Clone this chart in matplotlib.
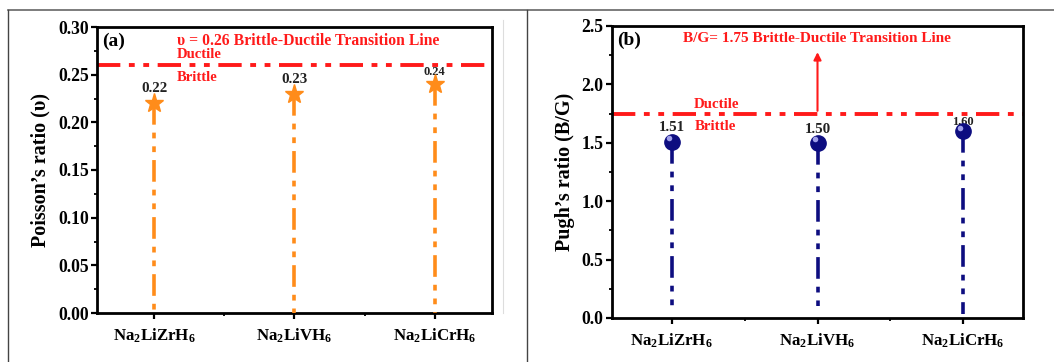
import matplotlib
matplotlib.use("Agg")
import matplotlib.pyplot as plt
from matplotlib.lines import Line2D
from matplotlib.ticker import MultipleLocator, FixedLocator

plt.rcParams['font.family'] = ['Liberation Serif', 'DejaVu Serif']
plt.rcParams['font.weight'] = 'bold'
plt.rcParams['mathtext.fontset'] = 'custom'
plt.rcParams['mathtext.rm'] = 'Liberation Serif:bold'
plt.rcParams['mathtext.bf'] = 'Liberation Serif:bold'
plt.rcParams['mathtext.it'] = 'Liberation Serif:bold'

# ---- data ----
compounds = [r'Na$_2$LiZrH$_6$', r'Na$_2$LiVH$_6$', r'Na$_2$LiCrH$_6$']
poisson = [0.22, 0.23, 0.24]
pugh = [1.51, 1.50, 1.60]
poisson_limit = 0.26
pugh_limit = 1.75
poisson_ticks = [0.00, 0.05, 0.10, 0.15, 0.20, 0.25, 0.30]
pugh_ticks = [0.0, 0.5, 1.0, 1.5, 2.0, 2.5]

W, H = 1054, 362
fig = plt.figure(figsize=(W / 100, H / 100), dpi=100)

def ax_rect(l, r, t, b):
    return [l / W, 1 - b / H, (r - l) / W, (b - t) / H]

axa = fig.add_axes(ax_rect(97, 492, 27, 313))
axb = fig.add_axes(ax_rect(612, 1023, 26, 318))

red = '#ff1a1a'
orange = '#ff8c1a'
navy = '#0d0d80'
dashdotdot = (0, (6, 2.2, 1.6, 2.2, 1.6, 2.2))
hline_style = (0, (6, 2.2, 1.5, 2.2, 1.5, 2.2))
xs = [1, 2, 3]

def style(ax, ylim, ticks, minor, ylabel, fmt):
    ax.set_xlim(0.59, 3.41)
    ax.set_ylim(*ylim)
    ax.set_yticks(ticks)
    ax.set_yticklabels([fmt.format(t) for t in ticks])
    ax.yaxis.set_minor_locator(MultipleLocator(minor))
    ax.set_xticks(xs)
    ax.set_xticklabels(compounds)
    ax.xaxis.set_minor_locator(FixedLocator([1.5, 2.5]))
    for s in ax.spines.values():
        s.set_linewidth(2.0)
    ax.tick_params(axis='both', which='major', direction='out', length=4, width=1.6,
                   labelsize=12.7, pad=2)
    ax.tick_params(axis='both', which='minor', direction='out', length=2.5, width=1.3)
    ax.tick_params(axis='x', labelsize=12.2, pad=6)
    ax.set_ylabel(ylabel, fontsize=14.5, fontweight='bold', labelpad=5)

# ---- panel (a) ----
style(axa, (0, 0.30), poisson_ticks, 0.025, "Poisson’s ratio (υ)", '{:.2f}')
axa.axhline(poisson_limit, color=red, lw=2.8, ls=hline_style, zorder=2)
for x, v in zip(xs, poisson):
    axa.plot([x, x], [v, 0], color=orange, lw=2.6, ls=dashdotdot, zorder=3)
    axa.plot(x, v, marker='*', ms=14, color=orange, zorder=4)
lab_y_a = [0.236, 0.245, 0.253]
lab_fs_a = [10.8, 10.8, 9]
for x, v, ly, fs in zip(xs, poisson, lab_y_a, lab_fs_a):
    axa.text(x, ly, f'{v:.2f}', ha='center', va='center', fontsize=fs, fontweight='bold', color='#222222')
axa.text(1.16, 0.2855, 'υ = 0.26 Brittle-Ductile Transition Line', color=red, fontsize=11.3,
         fontweight='bold', va='center', ha='left')
axa.text(1.16, 0.271, 'Ductile', color=red, fontsize=10.5, fontweight='bold', va='center', ha='left')
axa.text(1.16, 0.247, 'Brittle', color=red, fontsize=10.5, fontweight='bold', va='center', ha='left')
axa.text(0.012, 0.95, '(a)', transform=axa.transAxes, fontsize=14, fontweight='bold', va='center')

# ---- panel (b) ----
style(axb, (0, 2.5), pugh_ticks, 0.25, "Pugh’s ratio (B/G)", '{:.1f}')
axb.axhline(pugh_limit, color=red, lw=2.8, ls=hline_style, zorder=2)
for x, v in zip(xs, pugh):
    axb.plot([x, x], [v, 0.1 if x != 3 else 0.03], color=navy, lw=2.6, ls=dashdotdot, zorder=3)
    axb.plot(x, v, marker='o', ms=11, color=navy, mec=navy, zorder=4)
    axb.plot(x - 0.02, v + 0.03, marker='o', ms=4, color='#a0a0ea', mec='none', zorder=5)
lab_y_b = [1.63, 1.61, 1.68]
lab_fs_b = [10.8, 10.8, 9]
for x, v, ly, fs in zip(xs, pugh, lab_y_b, lab_fs_b):
    axb.text(x, ly, f'{v:.2f}', ha='center', va='center', fontsize=fs, fontweight='bold', color='#222222')
axb.annotate('', xy=(2, 2.30), xytext=(2, pugh_limit),
             arrowprops=dict(arrowstyle='-|>', color=red, lw=1.5, mutation_scale=11))
axb.text(1.08, 2.39, 'B/G= 1.75 Brittle-Ductile Transition Line', color=red, fontsize=11,
         fontweight='bold', va='center', ha='left')
axb.text(1.15, 1.83, 'Ductile', color=red, fontsize=10.7, fontweight='bold', va='center', ha='left')
axb.text(1.16, 1.64, 'Brittle', color=red, fontsize=10.7, fontweight='bold', va='center', ha='left')
axb.text(0.012, 0.95, '(b)', transform=axb.transAxes, fontsize=14, fontweight='bold', va='center')

# ---- outer frame ----
def fline(x0, y0, x1, y1, c='#444444', lw=1.0):
    fig.add_artist(Line2D([x0 / W, x1 / W], [1 - y0 / H, 1 - y1 / H], color=c, lw=lw,
                          transform=fig.transFigure))

fline(8, 10, 1054, 10, c='#666666', lw=1.2)
fline(8, 10, 8, 362, c='#444444', lw=1.0)
fline(527, 10, 527, 362, c='#444444', lw=1.0)
fline(503, 20, 503, 313, c='#dddddd', lw=0.8)

fig.savefig('out.png', dpi=100)
